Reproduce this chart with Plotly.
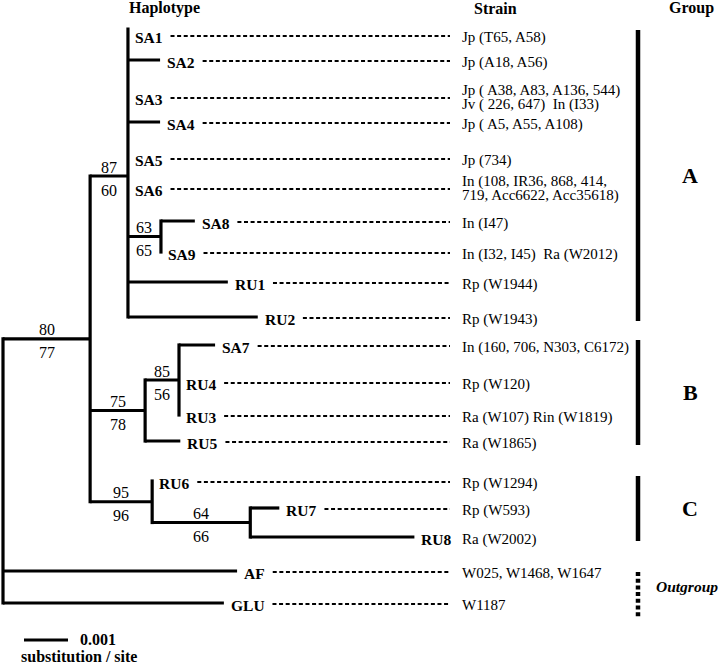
import plotly.graph_objects as go

# ---------------- data ----------------
# tree topology (parent listed before its children) and branch lengths (substitution / site)
node_names = ["ingroup", "A", "SA1", "SA2", "SA3", "SA4", "SA5", "SA6", "n89", "SA8", "SA9",
              "RU1", "RU2", "B", "n85", "SA7", "RU4", "RU3", "RU5", "C", "RU6", "n78",
              "RU7", "RU8", "AF", "GLU"]
node_parents = ["root", "ingroup", "A", "A", "A", "A", "A", "A", "A", "n89", "n89",
                "A", "A", "ingroup", "B", "n85", "n85", "n85", "B", "ingroup", "C", "C",
                "n78", "n78", "root", "root"]
branch_lengths = [0.00198, 0.00086, 0.0, 0.00073, 0.0, 0.00073, 0.0, 0.0, 0.00075, 0.00077, 0.0,
                  0.00227, 0.00295, 0.00125, 0.00077, 0.00082, 0.0, 0.0, 0.00080, 0.00141, 0.0,
                  0.00223, 0.00066, 0.00373, 0.00532, 0.00502]

haplotypes = ["SA1", "SA2", "SA3", "SA4", "SA5", "SA6", "SA8", "SA9", "RU1", "RU2",
              "SA7", "RU4", "RU3", "RU5", "RU6", "RU7", "RU8", "AF", "GLU"]
strains = [
    ["Jp (T65, A58)"],
    ["Jp (A18, A56)"],
    ["Jp ( A38, A83, A136, 544)", "Jv ( 226, 647)  In (I33)"],
    ["Jp ( A5, A55, A108)"],
    ["Jp (734)"],
    ["In (108, IR36, 868, 414,", "719, Acc6622, Acc35618)"],
    ["In (I47)"],
    ["In (I32, I45)  Ra (W2012)"],
    ["Rp (W1944)"],
    ["Rp (W1943)"],
    ["In (160, 706, N303, C6172)"],
    ["Rp (W120)"],
    ["Ra (W107) Rin (W1819)"],
    ["Ra (W1865)"],
    ["Rp (W1294)"],
    ["Rp (W593)"],
    ["Ra (W2002)"],
    ["W025, W1468, W1647"],
    ["W1187"],
]
groups = ["A"] * 10 + ["B"] * 4 + ["C"] * 3 + ["Outgroup"] * 2

bootstrap_nodes = ["ingroup", "A", "n89", "B", "n85", "C", "n78"]
bootstrap_top = [80, 87, 63, 75, 85, 95, 64]
bootstrap_bottom = [77, 60, 65, 78, 56, 96, 66]

scale_bar_value = 0.001
scale_bar_label = "0.001"
scale_bar_unit = "substitution / site"

# ---------------- layout constants ----------------
W, H = 720, 666
PX_PER_UNIT = 44 / 0.001         # horizontal scale of the tree
ROOT_PX = 3
TIP_Y = [35, 60, 97, 122, 158, 188, 221, 252, 282, 317,
         345, 382, 415, 441, 481, 508, 537, 571, 603]
LEADER_END_PX = 450
STRAIN_X_PX = 460
GROUP_BAR_PX = 638
GROUP_LABEL_PX = 690
FONT = "Liberation Serif"
TREE_W = 3.2


def px2u(px):
    return (px - ROOT_PX) / PX_PER_UNIT


# ---------------- compute tree coordinates ----------------
depth = {"root": 0.0}
for n, p, bl in zip(node_names, node_parents, branch_lengths):
    depth[n] = depth[p] + bl

ypos = dict(zip(haplotypes, TIP_Y))
children = {}
for n, p in zip(node_names, node_parents):
    children.setdefault(p, []).append(n)


def node_y(n):
    if n in ypos:
        return ypos[n]
    ys = [node_y(c) for c in children[n]]
    ypos[n] = (min(ys) + max(ys)) / 2
    return ypos[n]


node_y("root")

tx, ty = [], []
ext = 1.6
for n, p in zip(node_names, node_parents):
    if depth[n] > depth[p]:
        tx += [depth[p], depth[n], None]
        ty += [ypos[n], ypos[n], None]
for n, ch in children.items():
    ys = [ypos[c] for c in ch]
    top = min(ys) - ext
    if n == "A":
        top -= 6
    tx += [depth[n], depth[n], None]
    ty += [top, max(ys) + ext, None]

fig = go.Figure()
fig.add_trace(go.Scatter(x=tx, y=ty, mode="lines", line=dict(color="black", width=TREE_W),
                         hoverinfo="skip"))

# bold tip label width estimate (Times bold, em units)
EM = {"S": .556, "A": .722, "R": .722, "U": .722, "F": .611, "G": .778, "L": .667}
LABEL_SIZE = 15.5


def label_width(s):
    return sum(EM.get(c, .5) for c in s) * LABEL_SIZE


lx, ly = [], []
annotations = []
for h, strain_lines in zip(haplotypes, strains):
    x0 = depth[h]
    y0 = ypos[h]
    annotations.append(dict(x=x0, y=y0, xref="x", yref="y", text=f"<b>{h}</b>", showarrow=False,
                            xanchor="left", yanchor="middle", xshift=5, yshift=-2,
                            font=dict(family=FONT, size=LABEL_SIZE, color="black")))
    start_px = ROOT_PX + x0 * PX_PER_UNIT + 7 + label_width(h) + 8
    if start_px < LEADER_END_PX - 5:
        lx += [px2u(start_px), px2u(LEADER_END_PX), None]
        ly += [y0 + 1, y0 + 1, None]
    if len(strain_lines) == 1:
        offs = [2]
    else:
        offs = [-7, 7]
    for line, o in zip(strain_lines, offs):
        annotations.append(dict(x=STRAIN_X_PX / W, y=y0 + o, xref="paper", yref="y", text=line,
                                showarrow=False, xanchor="left", yanchor="middle",
                                font=dict(family=FONT, size=15, color="black")))

fig.add_trace(go.Scatter(x=lx, y=ly, mode="lines",
                         line=dict(color="black", width=1.8, dash="4px,2.6px"), hoverinfo="skip"))

# bootstrap values on branches
for n, t, b in zip(bootstrap_nodes, bootstrap_top, bootstrap_bottom):
    p = node_parents[node_names.index(n)]
    xm = (depth[p] + depth[n]) / 2
    for val, dy in ((t, -9), (b, 14)):
        annotations.append(dict(x=xm, y=ypos[n] + dy, xref="x", yref="y", text=str(val),
                                showarrow=False, xanchor="center", yanchor="middle",
                                font=dict(family=FONT, size=16, color="black")))

# group bars
group_names = []
for g in groups:
    if g not in group_names:
        group_names.append(g)
for g in group_names:
    ys = [ypos[h] for h, gg in zip(haplotypes, groups) if gg == g]
    y_top, y_bot = min(ys) - 5, max(ys) + 4
    if g == "Outgroup":
        y_top, y_bot = min(ys) + 1, max(ys) + 15
        fig.add_trace(go.Scatter(x=[px2u(GROUP_BAR_PX)] * 2, y=[y_top, y_bot], mode="lines",
                                 line=dict(color="black", width=4.5, dash="4px,2.7px"),
                                 hoverinfo="skip"))
        annotations.append(dict(x=(GROUP_BAR_PX + 16) / W, y=(y_top + y_bot) / 2 - 9, xref="paper",
                                yref="y", text="<b><i>Outgroup</i></b>", showarrow=False,
                                xanchor="left", yanchor="middle",
                                font=dict(family=FONT, size=15.5, color="black")))
    else:
        fig.add_trace(go.Scatter(x=[px2u(GROUP_BAR_PX)] * 2, y=[y_top, y_bot], mode="lines",
                                 line=dict(color="black", width=4.5), hoverinfo="skip"))
        annotations.append(dict(x=GROUP_LABEL_PX / W, y=(y_top + y_bot) / 2, xref="paper",
                                yref="y", text=f"<b>{g}</b>", showarrow=False,
                                xanchor="center", yanchor="middle",
                                font=dict(family=FONT, size=22, color="black")))

# headers
for txt, xp in (("Haplotype", 164), ("Strain", 495), ("Group", 691)):
    annotations.append(dict(x=xp / W, y=8, xref="paper", yref="y", text=f"<b>{txt}</b>",
                            showarrow=False, xanchor="center", yanchor="middle",
                            font=dict(family=FONT, size=16, color="black")))

# scale bar
sb_x0 = px2u(24)
fig.add_trace(go.Scatter(x=[sb_x0, sb_x0 + scale_bar_value], y=[640, 640], mode="lines",
                         line=dict(color="black", width=3.2), hoverinfo="skip"))
annotations.append(dict(x=sb_x0 + scale_bar_value, y=639, xref="x", yref="y",
                        text=f"<b>{scale_bar_label}</b>", showarrow=False, xanchor="left",
                        yanchor="middle", xshift=10,
                        font=dict(family=FONT, size=16, color="black")))
annotations.append(dict(x=20 / W, y=656, xref="paper", yref="y", text=f"<b>{scale_bar_unit}</b>",
                        showarrow=False, xanchor="left", yanchor="middle", borderpad=0,
                        font=dict(family=FONT, size=16, color="black")))

fig.update_layout(
    width=W, height=H, margin=dict(l=0, r=0, t=0, b=0),
    paper_bgcolor="white", plot_bgcolor="white", showlegend=False,
    xaxis=dict(range=[px2u(0), px2u(W)], visible=False, fixedrange=True),
    yaxis=dict(range=[H, 0], visible=False, fixedrange=True),
    annotations=annotations,
)

fig.write_html("out.html", config={"displayModeBar": False},
               post_script="document.body.style.margin='0';document.body.style.overflow='hidden';")
